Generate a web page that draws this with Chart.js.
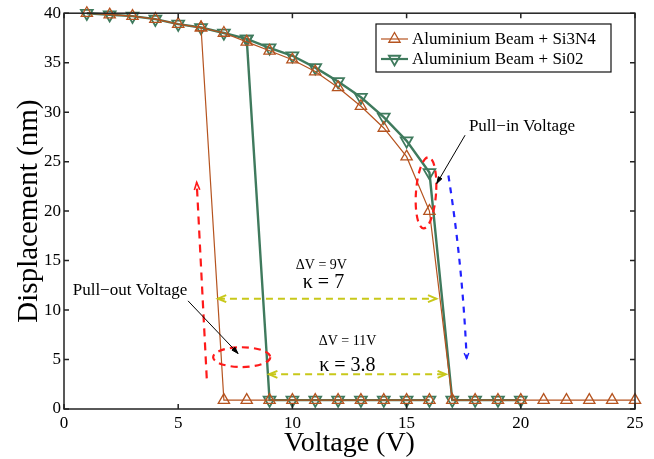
<!DOCTYPE html>
<html>
<head>
<meta charset="utf-8">
<script src="https://cdn.jsdelivr.net/npm/chart.js@4.4.0/dist/chart.umd.min.js"></script>
<style>
html, body { margin: 0; padding: 0; background: #fff; }
#wrap { width: 654px; height: 459px; }
</style>
</head>
<body>
<div id="wrap"><canvas id="graph"></canvas></div>
<script>
// upper (un-collapsed) branch, x = 1..16 V
const upperVoltage = [1, 2, 3, 4, 5, 6, 7, 8, 9, 10, 11, 12, 13, 14, 15, 16];
const si3n4Upper = [40, 39.85, 39.7, 39.4, 38.9, 38.55, 38.0, 37.1, 36.2, 35.3, 34.1, 32.5, 30.6, 28.4, 25.5, 20.0];
const si02Upper  = [40, 39.85, 39.7, 39.4, 38.9, 38.55, 38.0, 37.4, 36.5, 35.7, 34.5, 33.1, 31.5, 29.5, 27.1, 23.9];

// collapsed branch
const si3n4LowVoltage = [7, 8, 9, 10, 11, 12, 13, 14, 15, 16, 17, 18, 19, 20, 21, 22, 23, 24, 25];
const si3n4Low = [0.9, 0.9, 0.9, 0.9, 0.9, 0.9, 0.9, 0.9, 0.9, 0.9, 0.9, 0.9, 0.9, 0.9, 0.9, 0.9, 0.9, 0.9, 0.9];
const si02LowVoltage = [9, 10, 11, 12, 13, 14, 15, 16, 17, 18, 19, 20];
const si02Low = [0.9, 0.9, 0.9, 0.9, 0.9, 0.9, 0.9, 0.9, 0.9, 0.9, 0.9, 0.9];

const seriesNames = ['Aluminium Beam + Si3N4', 'Aluminium Beam + Si02'];
const xTicks = [0, 5, 10, 15, 20, 25];
const yTicks = [0, 5, 10, 15, 20, 25, 30, 35, 40];

const ORANGE = '#b5531f';
const GREEN = '#3f7a5d';
const FONT = "'Liberation Serif', 'Times New Roman', serif";

// pull-in sweep (upper then jump down), gap, pull-out sweep (jump from upper to low)
function hysteresis(upV, upY, lowV, lowY) {
  const pts = [];
  const lastUp = upV[upV.length - 1];
  upV.forEach((v, i) => pts.push({x: v, y: upY[i]}));
  lowV.forEach((v, i) => { if (v > lastUp) pts.push({x: v, y: lowY[i]}); });
  pts.push({x: lastUp + 0.5, y: null});
  const j = upV.indexOf(lowV[0] - 1);
  pts.push({x: upV[j], y: upY[j]});
  lowV.forEach((v, i) => { if (v <= lastUp) pts.push({x: v, y: lowY[i]}); });
  return pts;
}

function arrowHead(ctx, x1, y1, x2, y2, len, ang, filled) {
  const a = Math.atan2(y2 - y1, x2 - x1);
  ctx.save();
  ctx.setLineDash([]);
  ctx.beginPath();
  ctx.moveTo(x2 - len * Math.cos(a - ang), y2 - len * Math.sin(a - ang));
  ctx.lineTo(x2, y2);
  ctx.lineTo(x2 - len * Math.cos(a + ang), y2 - len * Math.sin(a + ang));
  if (filled) { ctx.closePath(); ctx.fill(); }
  ctx.stroke();
  ctx.restore();
}

function tri(ctx, x, y, r, down) {
  const s = down ? -1 : 1;
  ctx.beginPath();
  ctx.moveTo(x, y - s * r);
  ctx.lineTo(x + r * 0.866, y + s * r * 0.5);
  ctx.lineTo(x - r * 0.866, y + s * r * 0.5);
  ctx.closePath();
  ctx.stroke();
}

const decor = {
  id: 'decor',
  afterDatasetsDraw(chart) {
    const ctx = chart.ctx;
    const xs = chart.scales.x, ys = chart.scales.y;
    const X = v => xs.getPixelForValue(v), Y = v => ys.getPixelForValue(v);
    ctx.save();

    // red dashed arrow (pull-out direction, up)
    ctx.strokeStyle = '#ff1a1a'; ctx.lineWidth = 2.2; ctx.setLineDash([8, 6]);
    ctx.beginPath(); ctx.moveTo(X(6.25), Y(3.1)); ctx.lineTo(X(5.81), Y(22.9)); ctx.stroke();
    ctx.lineWidth = 1.6;
    arrowHead(ctx, X(6.25), Y(3.1), X(5.81), Y(22.9), 8, 0.35, false);

    // red dashed ellipses
    ctx.lineWidth = 2.2; ctx.setLineDash([7, 5]);
    ctx.beginPath();
    ctx.ellipse(X(7.78), Y(5.24), X(7.78 + 1.25) - X(7.78), Y(5.24) - Y(6.24), 0, 0, Math.PI * 2);
    ctx.stroke();
    ctx.beginPath();
    ctx.ellipse(X(15.85), Y(21.85), X(15.85 + 0.44) - X(15.85), Y(21.85) - Y(25.45), 0.07, 0, Math.PI * 2);
    ctx.stroke();

    // blue dashed arrow (pull-in direction, down)
    ctx.strokeStyle = '#2222ff'; ctx.lineWidth = 2.2; ctx.setLineDash([6, 6]);
    ctx.beginPath();
    ctx.moveTo(X(16.83), Y(23.6));
    ctx.quadraticCurveTo(X(17.45), Y(14.5), X(17.63), Y(5.1));
    ctx.stroke();
    ctx.lineWidth = 1.4;
    arrowHead(ctx, X(17.6), Y(7), X(17.63), Y(5.1), 6, 0.4, false);

    // yellow dashed double arrows
    ctx.strokeStyle = '#c8c81a'; ctx.lineWidth = 2; ctx.setLineDash([7, 5]);
    [[6.74, 16.3, 11.15], [8.98, 16.72, 3.5]].forEach(([a, b, y]) => {
      ctx.beginPath(); ctx.moveTo(X(a), Y(y)); ctx.lineTo(X(b), Y(y)); ctx.stroke();
      arrowHead(ctx, X(b), Y(y), X(a), Y(y), 9, 0.4, false);
      arrowHead(ctx, X(a), Y(y), X(b), Y(y), 9, 0.4, false);
    });

    // black pointer arrows
    ctx.strokeStyle = '#000'; ctx.fillStyle = '#000'; ctx.lineWidth = 1; ctx.setLineDash([]);
    [[17.56, 27.67, 16.32, 22.79], [5.43, 10.93, 7.62, 5.61]].forEach(([a, b, c, d]) => {
      ctx.beginPath(); ctx.moveTo(X(a), Y(b)); ctx.lineTo(X(c), Y(d)); ctx.stroke();
      arrowHead(ctx, X(a), Y(b), X(c), Y(d), 7, 0.3, true);
    });

    // texts
    ctx.fillStyle = '#000'; ctx.textAlign = 'center'; ctx.textBaseline = 'middle';
    ctx.font = '17px ' + FONT;
    ctx.fillText('Pull\u2212in Voltage', X(20.05), Y(28.57));
    ctx.fillText('Pull\u2212out Voltage', X(2.89), Y(11.93));
    ctx.font = '14px ' + FONT;
    ctx.fillText('\u0394V = 9V', X(11.27), Y(14.54));
    ctx.fillText('\u0394V = 11V', X(12.41), Y(6.85));
    ctx.font = '20px ' + FONT;
    ctx.fillText('\u03ba = 7', X(11.36), Y(12.76));
    ctx.fillText('\u03ba = 3.8', X(12.41), Y(4.41));
    ctx.restore();
  },
  afterDraw(chart) {
    const ctx = chart.ctx;
    const a = chart.chartArea;
    const xs = chart.scales.x, ys = chart.scales.y;
    ctx.save();
    // frame with inward ticks on all four sides
    ctx.strokeStyle = '#222'; ctx.lineWidth = 1.5;
    ctx.strokeRect(a.left, a.top, a.right - a.left, a.bottom - a.top);
    ctx.beginPath();
    xTicks.forEach(v => {
      const p = xs.getPixelForValue(v);
      ctx.moveTo(p, a.bottom); ctx.lineTo(p, a.bottom - 5);
      ctx.moveTo(p, a.top); ctx.lineTo(p, a.top + 5);
    });
    yTicks.forEach(v => {
      const p = ys.getPixelForValue(v);
      ctx.moveTo(a.left, p); ctx.lineTo(a.left + 5, p);
      ctx.moveTo(a.right, p); ctx.lineTo(a.right - 5, p);
    });
    ctx.stroke();

    // legend box
    const bx = 376, by = 24, bw = 235, bh = 48;
    ctx.fillStyle = '#fff'; ctx.fillRect(bx, by, bw, bh);
    ctx.strokeStyle = '#111'; ctx.lineWidth = 1.2; ctx.strokeRect(bx, by, bw, bh);
    const rows = [
      {c: ORANGE, w: 1.2, down: false, y: by + 15, t: seriesNames[0]},
      {c: GREEN, w: 2.2, down: true, y: by + 35, t: seriesNames[1]}
    ];
    rows.forEach(r => {
      ctx.strokeStyle = r.c; ctx.lineWidth = r.w;
      ctx.beginPath(); ctx.moveTo(bx + 5, r.y); ctx.lineTo(bx + 32, r.y); ctx.stroke();
      ctx.lineWidth = r.down ? 1.8 : 1.3;
      tri(ctx, bx + 18.5, r.y, 6.5, r.down);
      ctx.fillStyle = '#000'; ctx.font = '17px ' + FONT;
      ctx.textAlign = 'left'; ctx.textBaseline = 'middle';
      ctx.fillText(r.t, bx + 36, r.y + 1);
    });
    ctx.restore();
  }
};

new Chart(document.getElementById('graph'), {
  type: 'scatter',
  data: {
    datasets: [
      {
        label: seriesNames[0],
        data: hysteresis(upperVoltage, si3n4Upper, si3n4LowVoltage, si3n4Low),
        showLine: true,
        spanGaps: false,
        borderColor: ORANGE,
        borderWidth: 1.2,
        pointStyle: 'triangle',
        pointRadius: 6.5,
        pointBorderWidth: 1.3,
        pointBorderColor: ORANGE,
        pointBackgroundColor: 'rgba(0,0,0,0)',
        clip: false
      },
      {
        label: seriesNames[1],
        data: hysteresis(upperVoltage, si02Upper, si02LowVoltage, si02Low),
        showLine: true,
        spanGaps: false,
        borderColor: GREEN,
        borderWidth: 2.4,
        pointStyle: 'triangle',
        rotation: 180,
        pointRadius: 6.8,
        pointBorderWidth: 1.8,
        pointBorderColor: GREEN,
        pointBackgroundColor: 'rgba(0,0,0,0)',
        clip: false
      }
    ]
  },
  options: {
    responsive: true,
    maintainAspectRatio: false,
    animation: false,
    layout: { padding: { top: 10, right: 19, left: 0, bottom: 0 } },
    plugins: {
      legend: { display: false },
      tooltip: { enabled: false }
    },
    scales: {
      x: {
        type: 'linear',
        min: 0,
        max: 25,
        afterFit: s => { s.height = 50; },
        afterBuildTicks: s => { s.ticks = xTicks.map(v => ({value: v})); },
        grid: { display: false, drawTicks: false },
        border: { display: false },
        ticks: { color: '#000', padding: 4, maxRotation: 0, font: { family: FONT, size: 17 } },
        title: { display: true, text: 'Voltage (V)', color: '#000', padding: { top: 0, bottom: -1 }, font: { family: FONT, size: 28 } }
      },
      y: {
        type: 'linear',
        min: 0,
        max: 40,
        afterFit: s => { s.width = 64; },
        afterBuildTicks: s => { s.ticks = yTicks.map(v => ({value: v})); },
        grid: { display: false, drawTicks: false },
        border: { display: false },
        ticks: { color: '#000', padding: 3, font: { family: FONT, size: 17 } },
        title: { display: true, text: 'Displacement (nm)', color: '#000', padding: { top: 12, bottom: 0 }, font: { family: FONT, size: 29 } }
      }
    }
  },
  plugins: [decor]
});
</script>
</body>
</html>
